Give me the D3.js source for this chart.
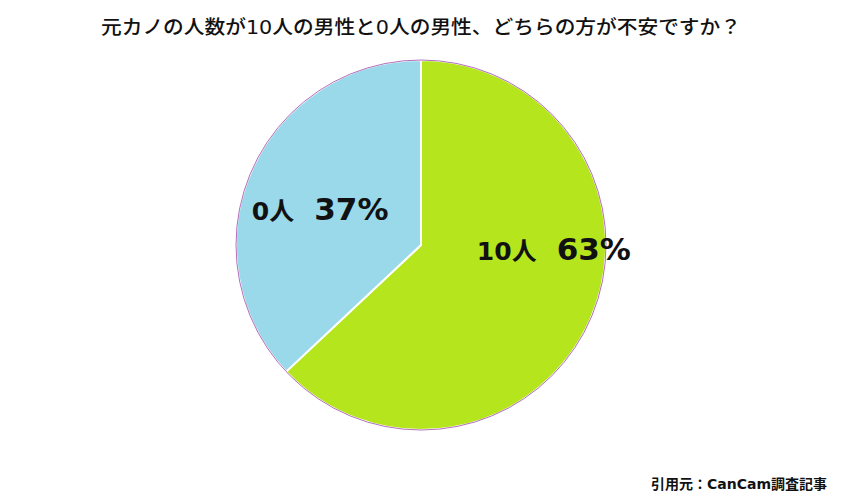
<!DOCTYPE html>
<html>
<head>
<meta charset="utf-8">
<script src="https://cdn.jsdelivr.net/npm/d3@7"></script>
<style>
  body { margin: 0; background: #fff; }
  text { font-family: "DejaVu Sans", "Noto Sans CJK JP", sans-serif; }
</style>
</head>
<body>
<svg id="chart" width="842" height="501"></svg>
<script>
// データ
var categories = ["10人", "0人"];
var values = [63, 37];
var colors = ["#b5e61d", "#99d9ea"];
var titleText = "元カノの人数が10人の男性と0人の男性、どちらの方が不安ですか？";
var sourceText = "引用元：CanCam調査記事";

var svg = d3.select("#chart");
var cx = 421, cy = 245, r = 185;

var data = categories.map(function (c, i) { return { name: c, value: values[i], color: colors[i] }; });

var pie = d3.pie().sort(null).value(function (d) { return d.value; });
var arc = d3.arc().innerRadius(0).outerRadius(r);
var arcs = pie(data);

var g = svg.append("g").attr("transform", "translate(" + cx + "," + cy + ")");

g.selectAll("path.slice")
  .data(arcs)
  .enter().append("path")
  .attr("class", "slice")
  .attr("d", arc)
  .attr("fill", function (d) { return d.data.color; })
  .attr("stroke", "#fff")
  .attr("stroke-width", 2);

// 外周の細い線
g.append("circle")
  .attr("r", r)
  .attr("fill", "none")
  .attr("stroke", "#a04aa8")
  .attr("stroke-width", 0.8);

// ラベル（重心からのずらし）
var labelArc = d3.arc().innerRadius(r * 0.6).outerRadius(r * 0.6);
var labelShift = [[31, -29], [1, 19]];

var labels = g.selectAll("text.lbl")
  .data(arcs)
  .enter().append("text")
  .attr("class", "lbl")
  .attr("text-anchor", "middle")
  .attr("font-weight", "bold")
  .attr("fill", "#111")
  .attr("transform", function (d, i) {
    var c = labelArc.centroid(d);
    return "translate(" + (c[0] + labelShift[i][0]) + "," + (c[1] + labelShift[i][1]) + ")";
  });
labels.append("tspan").attr("font-size", 25).text(function (d) { return d.data.name; });
labels.append("tspan").attr("font-size", 31).attr("dx", 20).text(function (d) { return d.data.value + "%"; });

svg.append("text")
  .attr("x", 421).attr("y", 34)
  .attr("text-anchor", "middle")
  .attr("font-size", 19)
  .attr("font-family", "'Noto Sans CJK JP', sans-serif")
  .attr("font-weight", 500)
  .attr("textLength", 640)
  .attr("lengthAdjust", "spacingAndGlyphs")
  .attr("fill", "#111")
  .text(titleText);

svg.append("text")
  .attr("x", 827).attr("y", 489)
  .attr("text-anchor", "end")
  .attr("font-size", 14)
  .attr("font-weight", "bold")
  .attr("fill", "#111")
  .text(sourceText);
</script>
</body>
</html>
